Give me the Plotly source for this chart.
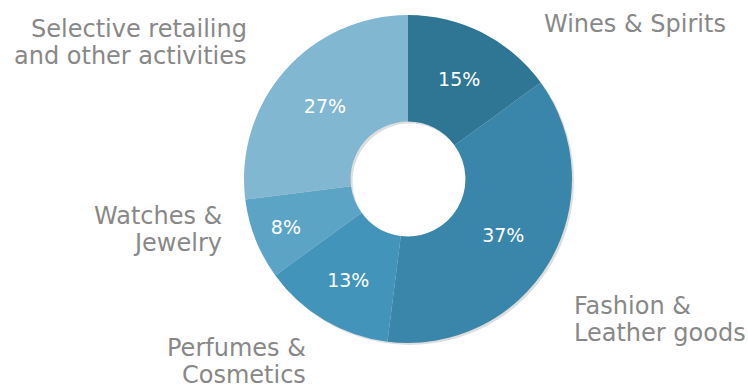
import plotly.graph_objects as go

# Revenue split by business group (percent of total)
categories = [
    "Wines & Spirits",
    "Fashion &\nLeather goods",
    "Perfumes &\nCosmetics",
    "Watches &\nJewelry",
    "Selective retailing\nand other activities",
]
shares = [15, 37, 13, 8, 27]
colors = ["#2f7694", "#3a85aa", "#4394bb", "#5ca4c6", "#82b7d2"]

W, H = 748, 388
cx, cy, r = 408, 179, 164  # donut centre and outer radius in px
hole = 0.35

# label placement: (anchor x px, first-line centre y px, x anchor)
label_pos = [
    (543, 24, "left"),
    (573, 306, "left"),
    (307, 348, "right"),
    (223, 216, "right"),
    (248, 29, "right"),
]
line_gap = 27
font = "DejaVu Sans, Verdana, sans-serif"


def domain(dx=0, dy=0):
    x0, y0 = cx + dx, cy + dy
    return dict(
        x=[(x0 - r) / W, (x0 + r) / W],
        y=[(H - y0 - r) / H, (H - y0 + r) / H],
    )


fig = go.Figure()

# soft drop shadow under the ring
fig.add_trace(
    go.Pie(
        values=[1],
        hole=hole,
        marker=dict(colors=["rgba(0,0,0,0.13)"], line=dict(width=0)),
        textinfo="none",
        hoverinfo="skip",
        domain=domain(2, 2),
        showlegend=False,
    )
)

fig.add_trace(
    go.Pie(
        labels=categories,
        values=shares,
        sort=False,
        direction="clockwise",
        rotation=0,
        hole=hole,
        marker=dict(colors=colors, line=dict(width=0)),
        texttemplate="%{value}%",
        textposition="inside",
        insidetextorientation="horizontal",
        insidetextfont=dict(color="white", size=19, family=font),
        hoverinfo="label+percent",
        domain=domain(),
        showlegend=False,
    )
)

annotations = []
for name, (x, y, anchor) in zip(categories, label_pos):
    for i, line in enumerate(name.split("\n")):
        annotations.append(
            dict(
                text=line,
                x=x / W,
                y=1 - (y + i * line_gap) / H,
                xref="paper",
                yref="paper",
                xanchor=anchor,
                yanchor="middle",
                showarrow=False,
                borderpad=0,
                font=dict(size=24, color="#888888", family=font),
            )
        )

fig.update_layout(
    width=W,
    height=H,
    margin=dict(l=0, r=0, t=0, b=0),
    paper_bgcolor="white",
    plot_bgcolor="white",
    annotations=annotations,
)

fig.write_html("out.html")
